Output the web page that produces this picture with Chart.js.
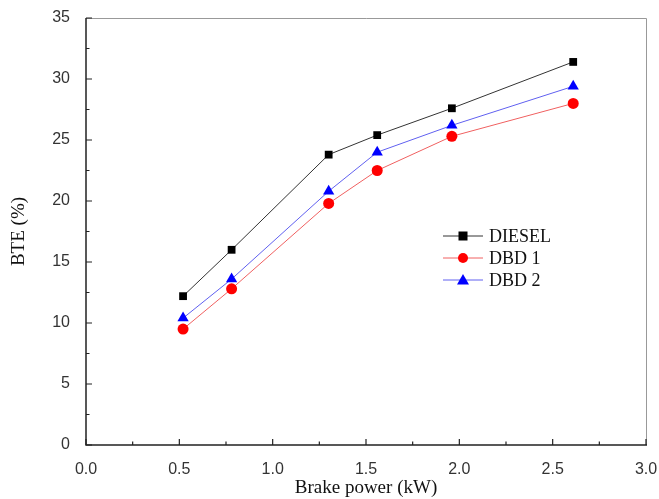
<!DOCTYPE html>
<html>
<head>
<meta charset="utf-8">
<script src="https://cdn.jsdelivr.net/npm/chart.js@4"></script>
<style>
  html, body { margin: 0; padding: 0; background: #fff; }
  #wrap { width: 659px; height: 499px; }
</style>
</head>
<body>
<div id="wrap"><canvas id="chart"></canvas></div>
<script>
const brakePower = [0.52, 0.78, 1.30, 1.56, 1.96, 2.61];
const dieselBte = [12.2, 16.0, 23.8, 25.4, 27.6, 31.4];
const dbd1Bte = [9.5, 12.8, 19.8, 22.5, 25.3, 28.0];
const dbd2Bte = [10.4, 13.6, 20.8, 24.0, 26.2, 29.4];
const seriesNames = ['DIESEL', 'DBD 1', 'DBD 2'];

function pts(ys) {
  return brakePower.map((x, i) => ({ x: x, y: ys[i] }));
}

// axes frame with inward ticks, plus legend inside the plot
const framePlugin = {
  id: 'frame',
  afterDraw(chart) {
    const ctx = chart.ctx;
    const a = chart.chartArea;
    const xs = chart.scales.x, ys = chart.scales.y;
    ctx.save();
    ctx.strokeStyle = '#999';
    ctx.lineWidth = 1;
    ctx.beginPath();
    ctx.moveTo(a.left, a.top + 0.5);
    ctx.lineTo(a.right + 0.5, a.top + 0.5);
    ctx.lineTo(a.right + 0.5, a.bottom);
    ctx.stroke();

    ctx.strokeStyle = '#222';
    ctx.lineWidth = 1.5;
    ctx.beginPath();
    ctx.moveTo(a.left, a.top);
    ctx.lineTo(a.left, a.bottom);
    ctx.lineTo(a.right + 1, a.bottom);
    ctx.stroke();

    ctx.lineWidth = 1.2;
    ctx.beginPath();
    for (let v = 0; v <= 3.0001; v += 0.25) {
      const px = xs.getPixelForValue(v);
      const major = Math.abs(v * 2 - Math.round(v * 2)) < 1e-6;
      ctx.moveTo(px, a.bottom);
      ctx.lineTo(px, a.bottom - (major ? 6 : 3.5));
    }
    for (let v = 0; v <= 35.001; v += 2.5) {
      const py = ys.getPixelForValue(v);
      const major = Math.abs(v / 5 - Math.round(v / 5)) < 1e-6;
      ctx.moveTo(a.left, py);
      ctx.lineTo(a.left + (major ? 6 : 3.5), py);
    }
    ctx.stroke();

    // legend
    const lx = 443, ly = 236, gap = 22;
    chart.data.datasets.forEach((ds, i) => {
      const y = ly + i * gap;
      ctx.strokeStyle = ds.borderColor;
      ctx.lineWidth = 1;
      ctx.beginPath();
      ctx.moveTo(lx, y);
      ctx.lineTo(lx + 40, y);
      ctx.stroke();
      ctx.fillStyle = ds.pointBackgroundColor;
      const cx = lx + 20;
      if (ds.pointStyle === 'rect') {
        ctx.fillRect(cx - 4.5, y - 4.5, 9, 9);
      } else if (ds.pointStyle === 'circle') {
        ctx.beginPath();
        ctx.arc(cx, y, 5, 0, Math.PI * 2);
        ctx.fill();
      } else {
        ctx.beginPath();
        ctx.moveTo(cx, y - 6);
        ctx.lineTo(cx + 6, y + 4.5);
        ctx.lineTo(cx - 6, y + 4.5);
        ctx.closePath();
        ctx.fill();
      }
      ctx.fillStyle = '#111';
      ctx.font = '18px "Liberation Serif"';
      ctx.textBaseline = 'middle';
      ctx.fillText(ds.label, lx + 46, y + 1);
    });
    ctx.restore();
  }
};

new Chart(document.getElementById('chart'), {
  type: 'line',
  data: {
    datasets: [
      {
        label: seriesNames[0],
        data: pts(dieselBte),
        borderColor: '#333',
        borderWidth: 1,
        pointStyle: 'rect',
        pointRadius: 5.5,
        pointBackgroundColor: '#000',
        pointBorderColor: '#000',
        pointBorderWidth: 0
      },
      {
        label: seriesNames[1],
        data: pts(dbd1Bte),
        borderColor: '#f06060',
        borderWidth: 1,
        pointStyle: 'circle',
        pointRadius: 5.5,
        pointBackgroundColor: '#ff0000',
        pointBorderColor: '#ff0000',
        pointBorderWidth: 0
      },
      {
        label: seriesNames[2],
        data: pts(dbd2Bte),
        borderColor: '#6060f0',
        borderWidth: 1,
        pointStyle: 'triangle',
        pointRadius: 6.5,
        pointBackgroundColor: '#0000ff',
        pointBorderColor: '#0000ff',
        pointBorderWidth: 0
      }
    ]
  },
  options: {
    responsive: true,
    maintainAspectRatio: false,
    animation: false,
    layout: { padding: { left: 0, top: 18, right: 13, bottom: 0 } },
    plugins: {
      legend: { display: false },
      tooltip: { enabled: false }
    },
    scales: {
      x: {
        type: 'linear',
        min: 0,
        max: 3,
        grid: { display: false },
        border: { display: false },
        afterFit: s => { s.height = 54; s.paddingRight = 0; s.paddingLeft = 0; },
        ticks: {
          stepSize: 0.5,
          padding: 7,
          color: '#333',
          font: { family: 'Liberation Sans', size: 16 },
          callback: v => v.toFixed(1)
        },
        title: {
          display: true,
          text: 'Brake power (kW)',
          color: '#111',
          font: { family: 'Liberation Serif', size: 19 },
          padding: { top: 4, bottom: 0 }
        }
      },
      y: {
        min: 0,
        max: 35,
        grid: { display: false },
        border: { display: false },
        afterFit: s => { s.width = 86; s.paddingTop = 0; s.paddingBottom = 0; },
        ticks: {
          stepSize: 5,
          padding: 8,
          color: '#333',
          font: { family: 'Liberation Sans', size: 16 }
        },
        title: {
          display: true,
          text: 'BTE (%)',
          color: '#111',
          font: { family: 'Liberation Serif', size: 19 },
          padding: { top: 8, bottom: 10 }
        }
      }
    }
  },
  plugins: [framePlugin]
});
</script>
</body>
</html>
